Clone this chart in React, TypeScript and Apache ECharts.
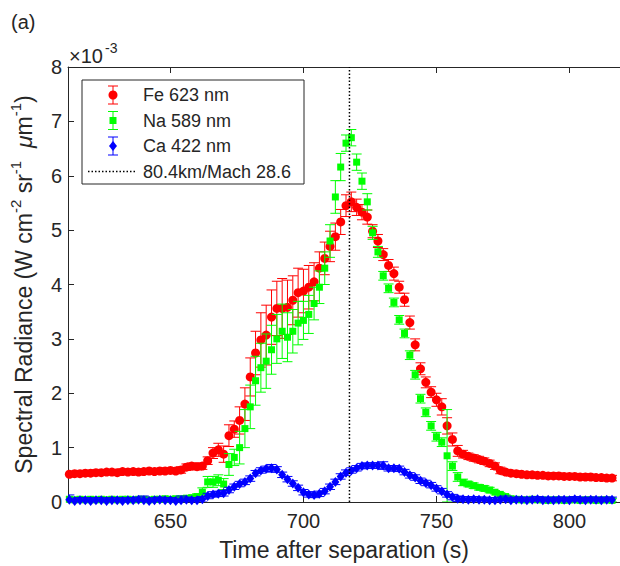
import React, { useEffect, useRef } from 'react';
import * as echarts from 'echarts';

// Time after separation (s)
const TIME = [
  612, 614, 616, 618, 620, 622, 624, 626, 628, 630,
  632, 634, 636, 638, 640, 642, 644, 646, 648, 650,
  652, 654, 656, 658, 660, 662, 664, 666, 668, 670,
  672, 674, 676, 678, 680, 682, 684, 686, 688, 690,
  692, 694, 696, 698, 700, 702, 704, 706, 708, 710,
  712, 714, 716, 718, 720, 722, 724, 726, 728, 730,
  732, 734, 736, 738, 740, 742, 744, 746, 748, 750,
  752, 754, 756, 758, 760, 762, 764, 766, 768, 770,
  772, 774, 776, 778, 780, 782, 784, 786, 788, 790,
  792, 794, 796, 798, 800, 802, 804, 806, 808, 810,
  812, 814, 816,
];

// Fe 623 nm (x1e-3)
const FE = [
  0.51, 0.52, 0.52, 0.53, 0.53, 0.54, 0.54, 0.55, 0.55, 0.54,
  0.56, 0.55, 0.56, 0.55, 0.56, 0.57, 0.56, 0.57, 0.57, 0.58,
  0.57, 0.59, 0.64, 0.66, 0.65, 0.66, 0.76, 0.90, 0.96, 0.88,
  1.22, 1.34, 1.50, 1.80, 2.30, 2.74, 2.98, 3.07, 3.40, 3.56,
  3.56, 3.58, 3.71, 3.85, 3.88, 3.95, 4.05, 4.30, 4.48, 4.70,
  4.88, 5.15, 5.45, 5.52, 5.42, 5.33, 5.24, 4.98, 4.80, 4.55,
  4.35, 4.20, 3.95, 3.72, 3.30, 2.89, 2.45, 2.20, 2.02, 1.88,
  1.75, 1.40, 1.15, 0.94, 0.88, 0.84, 0.81, 0.78, 0.75, 0.71,
  0.66, 0.58, 0.55, 0.53, 0.52, 0.51, 0.50, 0.50, 0.49, 0.49,
  0.48, 0.48, 0.48, 0.47, 0.47, 0.47, 0.46, 0.46, 0.46, 0.45,
  0.45, 0.44, 0.44,
];
const FE_ERR = [
  0.05, 0.04, 0.05, 0.05, 0.04, 0.05, 0.05, 0.04, 0.05, 0.05,
  0.05, 0.04, 0.05, 0.05, 0.05, 0.04, 0.05, 0.05, 0.05, 0.05,
  0.05, 0.06, 0.06, 0.06, 0.06, 0.06, 0.07, 0.10, 0.12, 0.15,
  0.20, 0.15, 0.25, 0.30, 0.35, 0.40, 0.50, 0.55, 0.50, 0.50,
  0.55, 0.50, 0.45, 0.45, 0.40, 0.40, 0.35, 0.30, 0.30, 0.28,
  0.25, 0.23, 0.20, 0.18, 0.15, 0.14, 0.13, 0.12, 0.12, 0.11,
  0.11, 0.12, 0.11, 0.12, 0.12, 0.11, 0.11, 0.10, 0.10, 0.12,
  0.15, 0.15, 0.12, 0.10, 0.07, 0.06, 0.06, 0.06, 0.06, 0.06,
  0.06, 0.06, 0.05, 0.05, 0.05, 0.05, 0.05, 0.05, 0.05, 0.05,
  0.05, 0.05, 0.05, 0.05, 0.05, 0.05, 0.05, 0.05, 0.05, 0.05,
  0.05, 0.05, 0.05,
];

// Na 589 nm (x1e-3)
const NA = [
  0.05, 0.04, 0.05, 0.04, 0.05, 0.04, 0.05, 0.04, 0.05, 0.04,
  0.05, 0.05, 0.04, 0.05, 0.05, 0.04, 0.05, 0.05, 0.06, 0.05,
  0.06, 0.06, 0.07, 0.08, 0.10, 0.18, 0.37, 0.37, 0.40, 0.33,
  0.69, 0.82, 1.00, 1.35, 1.75, 2.23, 2.47, 2.59, 2.80, 3.00,
  3.14, 3.03, 3.14, 3.29, 3.34, 3.45, 3.65, 3.95, 4.30, 4.80,
  5.61, 6.16, 6.60, 6.70, 6.25, 5.90, 5.52, 4.95, 4.60, 4.16,
  3.93, 3.67, 3.35, 3.10, 2.70, 2.34, 1.90, 1.65, 1.40, 1.20,
  1.10, 0.85, 0.66, 0.46, 0.36, 0.33, 0.30, 0.27, 0.25, 0.22,
  0.18, 0.14, 0.10, 0.06, 0.05, 0.04, 0.04, 0.05, 0.04, 0.04,
  0.03, 0.04, 0.04, 0.03, 0.04, 0.04, 0.03, 0.04, 0.04, 0.03,
  0.04, 0.04, 0.03,
];
const NA_ERR = [
  0.03, 0.03, 0.03, 0.03, 0.03, 0.03, 0.03, 0.03, 0.03, 0.03,
  0.03, 0.03, 0.03, 0.03, 0.03, 0.03, 0.03, 0.03, 0.03, 0.03,
  0.03, 0.03, 0.04, 0.04, 0.05, 0.08, 0.10, 0.10, 0.10, 0.10,
  0.20, 0.15, 0.30, 0.35, 0.40, 0.45, 0.45, 0.50, 0.45, 0.45,
  0.50, 0.45, 0.40, 0.40, 0.35, 0.35, 0.30, 0.30, 0.30, 0.30,
  0.30, 0.25, 0.15, 0.15, 0.15, 0.15, 0.15, 0.12, 0.10, 0.08,
  0.08, 0.08, 0.08, 0.08, 0.08, 0.08, 0.08, 0.08, 0.08, 0.08,
  0.08, 0.85, 0.08, 0.08, 0.06, 0.05, 0.05, 0.05, 0.05, 0.05,
  0.03, 0.03, 0.03, 0.03, 0.03, 0.03, 0.03, 0.03, 0.03, 0.03,
  0.03, 0.03, 0.03, 0.03, 0.03, 0.03, 0.03, 0.03, 0.03, 0.03,
  0.03, 0.03, 0.03,
];

// Ca 422 nm (x1e-3)
const CA = [
  0.04, 0.02, 0.03, 0.03, 0.02, 0.03, 0.03, 0.02, 0.03, 0.03,
  0.02, 0.03, 0.03, 0.04, 0.03, 0.02, 0.03, 0.04, 0.03, 0.03,
  0.02, 0.03, 0.04, 0.03, 0.03, 0.05, 0.11, 0.14, 0.15, 0.16,
  0.22, 0.28, 0.33, 0.37, 0.43, 0.53, 0.58, 0.61, 0.62, 0.60,
  0.50, 0.42, 0.34, 0.26, 0.18, 0.14, 0.13, 0.15, 0.20, 0.28,
  0.37, 0.47, 0.54, 0.58, 0.62, 0.66, 0.67, 0.67, 0.67, 0.67,
  0.62, 0.62, 0.61, 0.55, 0.49, 0.45, 0.39, 0.35, 0.31, 0.25,
  0.20, 0.14, 0.09, 0.06, 0.05, 0.04, 0.05, 0.04, 0.04, 0.03,
  0.03, 0.04, 0.05, 0.03, 0.04, 0.04, 0.03, 0.04, 0.05, 0.03,
  0.04, 0.03, 0.04, 0.04, 0.03, 0.05, 0.04, 0.03, 0.04, 0.04,
  0.03, 0.04, 0.04,
];
const CA_ERR = [
  0.09, 0.05, 0.05, 0.05, 0.05, 0.05, 0.05, 0.05, 0.05, 0.05,
  0.05, 0.05, 0.05, 0.05, 0.08, 0.05, 0.05, 0.05, 0.05, 0.05,
  0.05, 0.08, 0.05, 0.05, 0.05, 0.05, 0.05, 0.05, 0.05, 0.05,
  0.05, 0.05, 0.05, 0.05, 0.05, 0.05, 0.05, 0.05, 0.07, 0.05,
  0.05, 0.05, 0.05, 0.05, 0.05, 0.05, 0.05, 0.05, 0.05, 0.05,
  0.05, 0.05, 0.05, 0.05, 0.05, 0.05, 0.05, 0.05, 0.05, 0.07,
  0.05, 0.05, 0.05, 0.05, 0.05, 0.05, 0.05, 0.05, 0.05, 0.05,
  0.05, 0.05, 0.05, 0.05, 0.05, 0.05, 0.05, 0.05, 0.05, 0.05,
  0.05, 0.05, 0.06, 0.05, 0.05, 0.05, 0.05, 0.05, 0.05, 0.05,
  0.05, 0.05, 0.05, 0.05, 0.05, 0.05, 0.05, 0.05, 0.05, 0.05,
  0.05, 0.05, 0.05,
];

const X_TICKS = [650, 700, 750, 800];
const X_MIN = 611.5;
const X_MAX = 819;
const Y_MIN = 0;
const Y_MAX = 8;
const MACH_TIME = 717.3;
const LEGEND_LABELS = ['Fe 623 nm', 'Na 589 nm', 'Ca 422 nm', '80.4km/Mach 28.6'];

const FONT = '"Liberation Sans", Arial, Helvetica, sans-serif';
const TXT = '#262626';
const RED = '#ff0000';
const GREEN = '#00ff00';
const BLUE = '#0000ff';

function errorBars(name: string, values: number[], errs: number[], color: string, capW: number, z: number) {
  return {
    type: 'custom',
    name,
    z,
    clip: true,
    silent: true,
    data: TIME.map((t, i) => [t, values[i] - errs[i], values[i] + errs[i]]),
    encode: { x: 0, y: [1, 2] },
    renderItem: (_params: any, api: any) => {
      const lo = api.coord([api.value(0), api.value(1)]);
      const hi = api.coord([api.value(0), api.value(2)]);
      const style = { stroke: color, lineWidth: 1, fill: 'none' };
      const h = capW / 2;
      return {
        type: 'group',
        children: [
          { type: 'line', shape: { x1: lo[0], y1: lo[1], x2: hi[0], y2: hi[1] }, style },
          { type: 'line', shape: { x1: lo[0] - h, y1: lo[1], x2: lo[0] + h, y2: lo[1] }, style },
          { type: 'line', shape: { x1: hi[0] - h, y1: hi[1], x2: hi[0] + h, y2: hi[1] }, style },
        ],
      };
    },
  };
}

function points(name: string, values: number[], color: string, symbol: string, size: number | number[], z: number) {
  return {
    type: 'scatter',
    name,
    z,
    clip: true,
    silent: true,
    symbol,
    symbolSize: size,
    itemStyle: { color, opacity: 1 },
    data: TIME.map((t, i) => [t, values[i]]),
  };
}

function legendIcon(cy: number, color: string, marker: string) {
  const cx = 113;
  const style = { stroke: color, lineWidth: 1, fill: 'none' };
  const els: any[] = [
    { type: 'line', shape: { x1: cx, y1: cy - 9, x2: cx, y2: cy + 9 }, style },
    { type: 'line', shape: { x1: cx - 5, y1: cy - 9, x2: cx + 5, y2: cy - 9 }, style },
    { type: 'line', shape: { x1: cx - 5, y1: cy + 9, x2: cx + 5, y2: cy + 9 }, style },
  ];
  if (marker === 'circle') {
    els.push({ type: 'circle', shape: { cx, cy, r: 4.5 }, style: { fill: color } });
  } else if (marker === 'rect') {
    els.push({ type: 'rect', shape: { x: cx - 3.5, y: cy - 3.5, width: 7, height: 7 }, style: { fill: color } });
  } else {
    els.push({ type: 'polygon', shape: { points: [[cx, cy - 5], [cx + 4, cy], [cx, cy + 5], [cx - 4, cy]] }, style: { fill: color } });
  }
  return els;
}

function label(text: string, x: number, y: number, size: number, extra: any = {}) {
  return {
    type: 'text',
    x,
    y,
    style: { text, fontFamily: FONT, fontSize: size, fill: TXT, ...extra },
  };
}

export default function App() {
  const ref = useRef<HTMLDivElement>(null);

  useEffect(() => {
    document.body.style.margin = '0';
    const chart = echarts.init(ref.current!, null, { renderer: 'svg' });

    const rowY = [95, 120.5, 146, 171.5];
    const legendEls: any[] = [
      {
        type: 'rect',
        shape: { x: 82, y: 80, width: 222, height: 104 },
        style: { fill: '#fff', stroke: TXT, lineWidth: 1 },
      },
      ...legendIcon(rowY[0], RED, 'circle'),
      ...legendIcon(rowY[1], GREEN, 'rect'),
      ...legendIcon(rowY[2], BLUE, 'diamond'),
      {
        type: 'line',
        shape: { x1: 88, y1: rowY[3], x2: 137, y2: rowY[3] },
        style: { stroke: '#000', lineWidth: 1.5, lineDash: [1.5, 2] },
      },
      ...LEGEND_LABELS.map((t, i) => label(t, 143, rowY[i], 18, { verticalAlign: 'middle' })),
    ];

    const option: any = {
      animation: false,
      backgroundColor: '#fff',
      grid: { left: 67, top: 67, width: 566, height: 438, containLabel: false },
      xAxis: [
        {
          type: 'value',
          min: X_MIN,
          max: X_MAX,
          position: 'bottom',
          axisLine: { show: true, lineStyle: { color: TXT, width: 1 } },
          axisTick: { show: true, inside: true, length: 6, customValues: X_TICKS, lineStyle: { color: TXT } },
          axisLabel: { customValues: X_TICKS, margin: 9, fontFamily: FONT, fontSize: 20, color: TXT },
          splitLine: { show: false },
          name: 'Time after separation (s)',
          nameLocation: 'middle',
          nameGap: 36,
          nameTextStyle: { fontFamily: FONT, fontSize: 23, color: TXT, lineHeight: 23 },
        },
        {
          type: 'value',
          min: X_MIN,
          max: X_MAX,
          position: 'top',
          axisLine: { show: true, onZero: false, lineStyle: { color: TXT, width: 1 } },
          axisTick: { show: true, inside: true, length: 6, customValues: X_TICKS, lineStyle: { color: TXT } },
          axisLabel: { show: false },
          splitLine: { show: false },
        },
      ],
      yAxis: [
        {
          type: 'value',
          min: Y_MIN,
          max: Y_MAX,
          interval: 1,
          axisLine: { show: true, lineStyle: { color: TXT, width: 1 } },
          axisTick: { show: true, inside: true, length: 6, lineStyle: { color: TXT } },
          axisLabel: { margin: 6, fontFamily: FONT, fontSize: 20, color: TXT },
          splitLine: { show: false },
          name: 'Spectral Radiance (W cm{s|-2} sr{s|-1}  {mu|μ}m{s|-1})',
          nameLocation: 'middle',
          nameRotate: 90,
          nameGap: 12,
          nameTextStyle: {
            fontFamily: FONT,
            fontSize: 23,
            color: TXT,
            lineHeight: 32,
            rich: {
              s: { fontFamily: FONT, fontSize: 15, color: TXT, verticalAlign: 'top', lineHeight: 15 },
              mu: { fontFamily: FONT, fontSize: 23, color: TXT, fontStyle: 'italic', lineHeight: 32 },
            },
          },
        },
      ],
      series: [
        errorBars('Fe 623 nm err', FE, FE_ERR, RED, 10, 2),
        points('Fe 623 nm', FE, RED, 'circle', 9, 3),
        errorBars('Na 589 nm err', NA, NA_ERR, GREEN, 10, 4),
        points('Na 589 nm', NA, GREEN, 'rect', 7, 5),
        errorBars('Ca 422 nm err', CA, CA_ERR, BLUE, 10, 6),
        points('Ca 422 nm', CA, BLUE, 'diamond', [8, 10], 7),
        {
          type: 'line',
          name: '80.4km/Mach 28.6',
          z: 8,
          silent: true,
          symbol: 'none',
          data: [[MACH_TIME, Y_MIN], [MACH_TIME, Y_MAX]],
          lineStyle: { color: '#000', width: 1.5, type: [1.5, 2] },
        },
      ],
      graphic: [
        label('(a)', 11, 22, 20, { verticalAlign: 'middle' }),
        label('×10', 69, 56, 20, { verticalAlign: 'middle' }),
        label('-3', 105, 48, 14, { verticalAlign: 'middle' }),
        { type: 'group', z: 100, children: legendEls },
      ],
    };

    chart.setOption(option);
    return () => chart.dispose();
  }, []);

  return (
    <div
      ref={ref}
      style={{ position: 'absolute', left: 0, top: 0, width: 620, height: 566, background: '#fff' }}
    />
  );
}
